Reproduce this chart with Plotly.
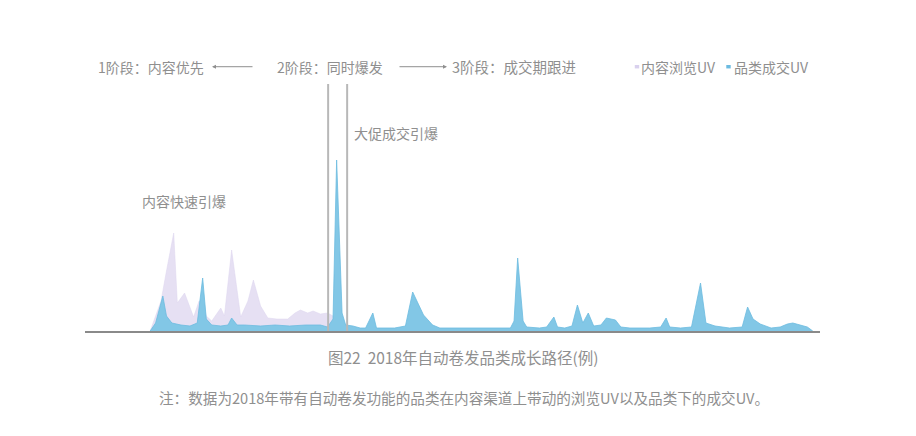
import plotly.graph_objects as go

# 内容浏览UV (day of 2018, relative level)
view_days = [0, 1, 6, 9, 13, 15, 19, 24, 27, 29, 31, 34, 39, 41, 45, 50, 54, 57,
             61, 65, 70, 76, 80, 83, 87, 90, 94, 98, 101, 103, 108, 110]
view_uv = [0, 5, 30, 60, 98, 28, 38, 14, 30, 30, 15, 10, 23, 15, 81, 14, 30, 51,
           25, 13, 12, 12, 18, 21, 18, 20, 17, 18, 15, 10, 5, 0]

# 品类成交UV
deal_days = [0, 3, 7, 9, 12, 17, 22, 26, 29, 31, 34, 39, 43, 45, 48, 52, 61, 69,
             77, 86, 94, 98, 101, 103, 106, 108, 112, 116, 119, 123, 125, 130, 135,
             141, 145, 151, 156, 160, 171, 182, 193, 199, 201, 203, 206, 208, 215,
             219, 223, 225, 229, 233, 236, 239, 242, 245, 249, 252, 257, 260, 265,
             271, 276, 282, 285, 287, 293, 299, 304, 307, 312, 320, 327, 330, 333,
             337, 343, 348, 352, 355, 359, 363, 366]
deal_uv = [0, 8, 35, 15, 8, 6, 5, 8, 53, 12, 6, 5, 6, 13, 6, 6, 5, 6,
           5, 6, 6, 4, 12, 171, 18, 6, 5, 3, 3, 18, 3, 3, 3,
           5, 39, 16, 6, 3, 3, 3, 3, 3, 10, 73, 10, 4, 3,
           4, 14, 4, 3, 5, 26, 8, 18, 5, 6, 13, 11, 4, 3,
           3, 3, 4, 13, 4, 3, 4, 48, 8, 5, 3, 4, 24, 12,
           7, 3, 4, 7, 8, 6, 4, 0]

promo_start, promo_end = 98.3, 108.8

gray = "#8f8f8f"
font = "Noto Sans CJK SC"

fig = go.Figure()
fig.add_trace(go.Scatter(x=view_days, y=view_uv, mode="lines", fill="tozeroy",
                         line=dict(color="#ddd5ef", width=0.5),
                         fillcolor="#e6e0f3", showlegend=False))
fig.add_trace(go.Scatter(x=deal_days, y=deal_uv, mode="lines", fill="tozeroy",
                         line=dict(color="#6cbbe0", width=0.8),
                         fillcolor="#82c7e6", showlegend=False))

for xv in (promo_start, promo_end):
    fig.add_shape(type="line", x0=xv, x1=xv, y0=0, y1=1, yref="paper",
                  line=dict(color="#b8b8b8", width=2))

def note(text, x, y, size=14, anchor="left"):
    fig.add_annotation(text=text, x=x, y=y, xref="paper", yref="paper",
                       xanchor=anchor, yanchor="middle", showarrow=False,
                       font=dict(family=font, size=size, color=gray))

head_y = 1.07
note("1阶段：内容优先", 0.0150, head_y)
note("2阶段：同时爆发", 0.2585, head_y)
note("3阶段：成交期跟进", 0.4966, head_y, size=14.5)
note("内容浏览UV", 0.7537, head_y)
note("品类成交UV", 0.8802, head_y)
note("大促成交引爆", 0.3633, 0.8016)
note("内容快速引爆", 0.0748, 0.5263)
note("图22  2018年自动卷发品类成长路径(例)", 0.5156, -0.105, size=15.5, anchor="center")
note("注：数据为2018年带有自动卷发功能的品类在内容渠道上带动的浏览UV以及品类下的成交UV。",
     0.5156, -0.27, size=14.6, anchor="center")

# legend squares
for xp, col in ((0.7510, "#d9d1ee"), (0.8755, "#6cbbe0")):
    fig.add_shape(type="rect", xref="paper", yref="paper",
                  x0=xp - 0.003, x1=xp + 0.003, y0=head_y - 0.007, y1=head_y + 0.007,
                  fillcolor=col, line=dict(width=0))

# stage arrows
fig.add_annotation(x=0.1728, y=head_y, xref="paper", yref="paper", text="",
                   showarrow=True, ax=42, ay=0, arrowhead=2, arrowsize=0.8,
                   arrowwidth=1, arrowcolor=gray)
fig.add_annotation(x=0.4925, y=head_y, xref="paper", yref="paper", text="",
                   showarrow=True, ax=-49, ay=0, arrowhead=2, arrowsize=0.8,
                   arrowwidth=1, arrowcolor=gray)

fig.update_layout(
    width=916, height=436,
    margin=dict(l=77, r=104, t=76, b=113),
    paper_bgcolor="white", plot_bgcolor="white",
    xaxis=dict(range=[-36, 370], showgrid=False, zeroline=False,
               showticklabels=False, ticks="", showline=True,
               linecolor="#8a8a8a", linewidth=2),
    yaxis=dict(range=[0, 247], showgrid=False, zeroline=False,
               showticklabels=False, ticks="", showline=False),
)

fig.write_html("out.html")
